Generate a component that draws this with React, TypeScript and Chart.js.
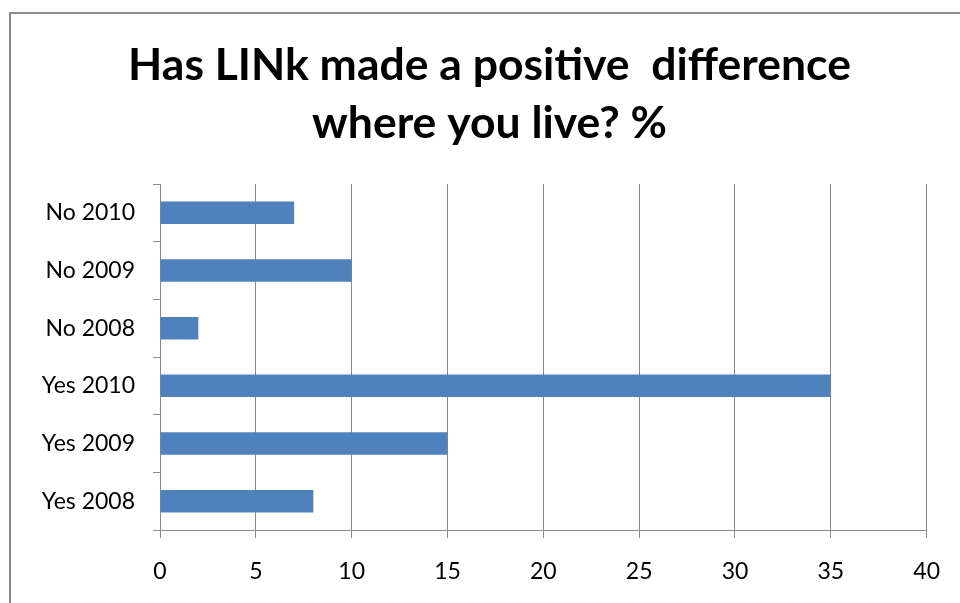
import React, { useEffect, useRef } from "react";
import { Chart, registerables } from "chart.js";

Chart.register(...registerables);

// Survey answers, top row first
const categories = ["No 2010", "No 2009", "No 2008", "Yes 2010", "Yes 2009", "Yes 2008"];
const percentages = [7, 10, 2, 35, 15, 8];
const titleLines = ["Has LINk made a positive  difference", "where you live? %"];
const axisMin = 0;
const axisMax = 40;
const axisStep = 5;

const FONT = "Lato, 'Open Sans', sans-serif";
const GRID = "#8a8a8a";

// Two-line heading centred over the frame
const headingPlugin = {
  id: "heading",
  afterDraw(chart: any) {
    const ctx = chart.ctx as CanvasRenderingContext2D;
    ctx.save();
    ctx.font = `bold 44.5px ${FONT}`;
    ctx.fillStyle = "#000";
    ctx.textAlign = "center";
    ctx.textBaseline = "alphabetic";
    const baselines = [80, 138];
    titleLines.forEach((line, i) => ctx.fillText(line, 489.5, baselines[i]));
    ctx.restore();
  },
};

export default function App() {
  const canvasRef = useRef<HTMLCanvasElement | null>(null);

  useEffect(() => {
    const canvas = canvasRef.current;
    if (!canvas) return;
    const chart = new Chart(canvas, {
      type: "bar",
      data: {
        labels: categories,
        datasets: [
          {
            data: percentages,
            backgroundColor: "#4F81BD",
            borderWidth: 0,
            barPercentage: 0.39,
            categoryPercentage: 1,
          },
        ],
      },
      options: {
        indexAxis: "y",
        responsive: false,
        animation: false,
        layout: { padding: { left: 0, right: 29, top: 184, bottom: 0 } },
        plugins: {
          legend: { display: false },
          tooltip: { enabled: false },
          title: { display: false },
        },
        scales: {
          x: {
            min: axisMin,
            max: axisMax,
            ticks: {
              stepSize: axisStep,
              color: "#000",
              font: { family: FONT, size: 23 },
              padding: 20,
              maxRotation: 0,
            },
            grid: { color: GRID, lineWidth: 1, tickLength: 8, drawOnChartArea: true },
            border: { color: GRID, width: 1 },
            afterFit: (scale: any) => {
              scale.height = 73;
            },
          },
          y: {
            ticks: {
              color: "#000",
              font: { family: FONT, size: 23 },
              padding: 18,
            },
            grid: { color: GRID, lineWidth: 1, tickLength: 7, drawOnChartArea: false, offset: true },
            border: { color: GRID, width: 1 },
            afterFit: (scale: any) => {
              scale.width = 160;
            },
          },
        },
      },
      plugins: [headingPlugin],
    });
    return () => chart.destroy();
  }, []);

  return (
    <div
      style={{
        position: "fixed",
        left: 0,
        top: 0,
        width: 960,
        height: 603,
        overflow: "hidden",
        background: "#fff",
      }}
    >
      <div
        style={{
          position: "absolute",
          left: 9,
          top: 12,
          right: -10,
          bottom: -10,
          border: "2px solid #8c8c8c",
        }}
      />
      <canvas
        ref={canvasRef}
        width={960}
        height={603}
        style={{ position: "absolute", left: 0, top: 0, width: 960, height: 603 }}
      />
    </div>
  );
}
